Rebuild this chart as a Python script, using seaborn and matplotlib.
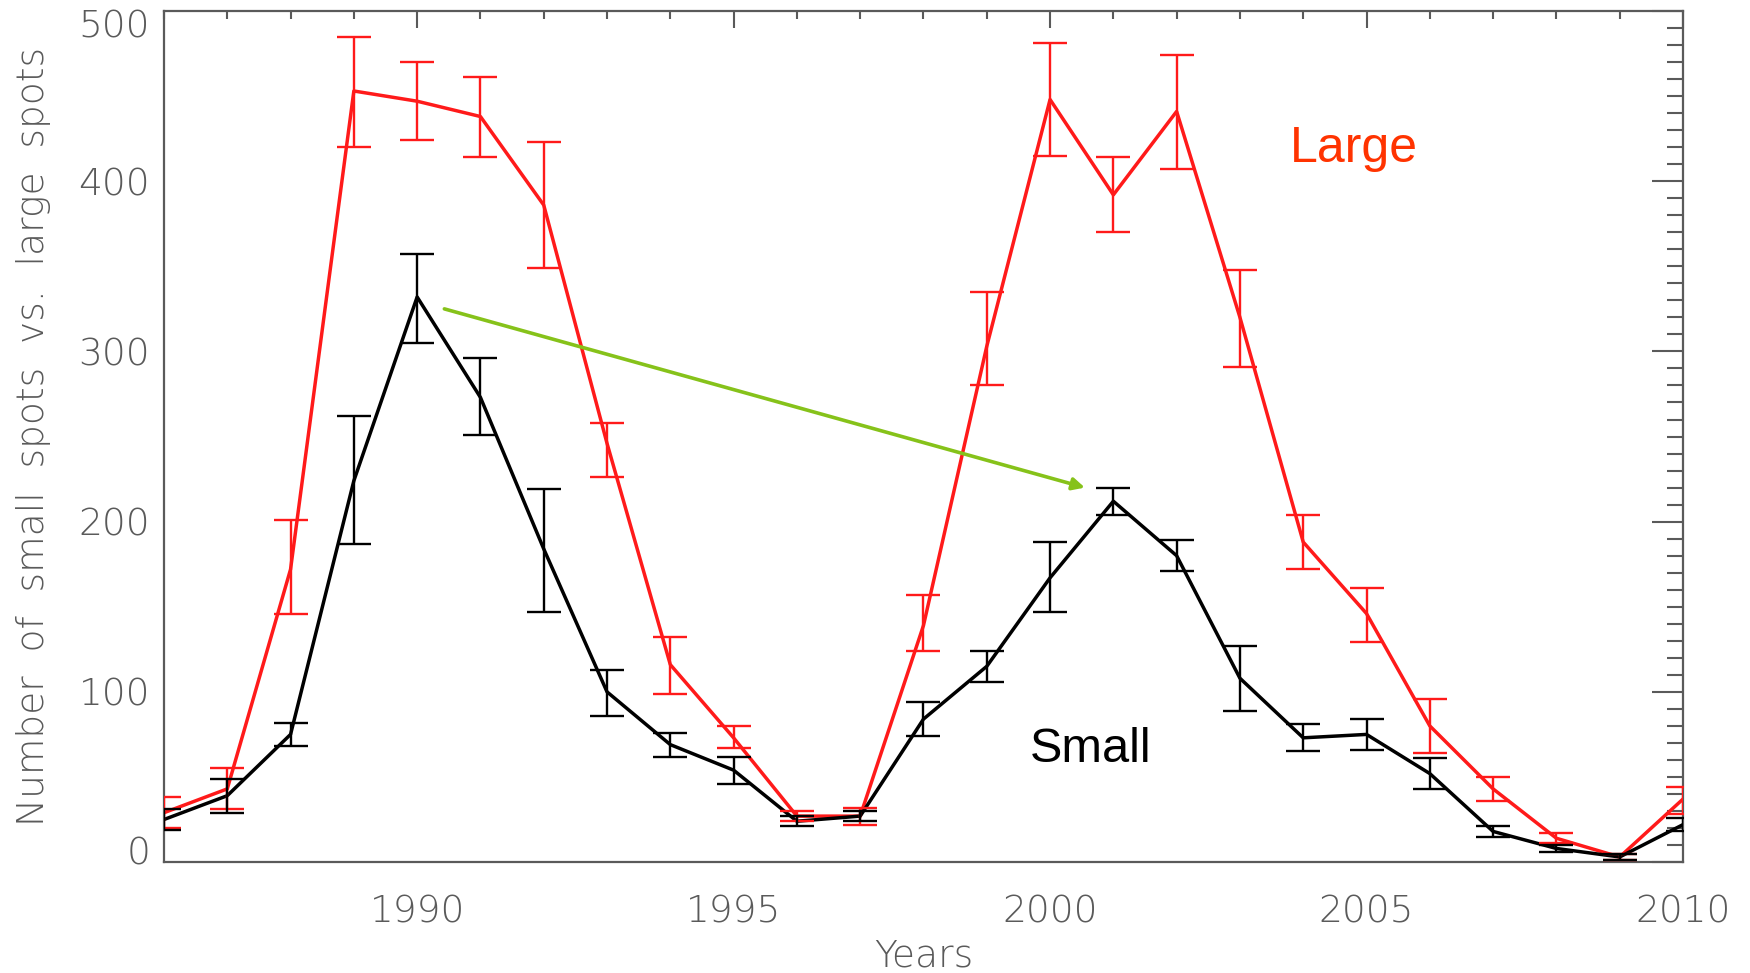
#!/usr/bin/env python3
"""Sunspot counts: small vs. large spots per year, with error bars."""

import matplotlib as mpl
import matplotlib.pyplot as plt
import numpy as np
import pandas as pd
import seaborn as sns
from matplotlib.transforms import ScaledTranslation

YEARS = list(range(1986, 2011))

LARGE = [29, 43, 172, 453, 447, 438, 386, 246, 116, 73, 27, 27, 139, 303,
         448, 392, 441, 320, 188, 146, 80, 43, 14, 3, 37]
LARGE_LO = [20, 31, 146, 420, 424, 414, 349, 226, 99, 67, 24, 22, 124, 280,
            415, 370, 407, 291, 172, 129, 64, 36, 11, 1, 28]
LARGE_HI = [38, 55, 201, 485, 470, 461, 423, 258, 132, 80, 30, 32, 157, 335,
            481, 414, 474, 348, 204, 161, 96, 50, 17, 5, 44]

SMALL = [25, 39, 75, 224, 332, 273, 184, 100, 69, 54, 24, 27, 84, 115,
         167, 212, 180, 108, 73, 75, 52, 18, 8, 3, 22]
SMALL_LO = [19, 29, 68, 187, 305, 251, 147, 86, 62, 46, 21, 24, 74, 106,
            147, 204, 171, 89, 65, 66, 43, 15, 6, 1, 18]
SMALL_HI = [31, 49, 82, 262, 357, 296, 219, 113, 76, 62, 27, 30, 94, 124,
            188, 220, 189, 127, 81, 84, 61, 21, 10, 5, 26]

ARROW_FROM = (1990.43, 325)
ARROW_TO = (2000.55, 220)

AXIS_GREY = "#5a5a5a"
LARGE_COLOR = "#ff1a1a"


def main() -> None:
    sns.set_theme(style="white")
    mpl.rcParams.update({
        "font.family": ["DejaVu Sans"],
        "axes.edgecolor": AXIS_GREY,
        "axes.linewidth": 1.6,
    })

    df = pd.DataFrame({
        "year": YEARS * 2,
        "count": LARGE + SMALL,
        "kind": ["Large"] * len(YEARS) + ["Small"] * len(YEARS),
    })

    fig = plt.figure(figsize=(17.5, 9.73), dpi=100)
    ax = fig.add_axes([0.0937, 0.114, 0.868, 0.8747])

    sns.lineplot(data=df, x="year", y="count", hue="kind",
                 palette={"Large": LARGE_COLOR, "Small": "black"},
                 linewidth=2.5, legend=False, ax=ax, zorder=3)

    years = np.array(YEARS)
    for vals, lo, hi, col in [(LARGE, LARGE_LO, LARGE_HI, LARGE_COLOR),
                              (SMALL, SMALL_LO, SMALL_HI, "black")]:
        v = np.array(vals)
        yerr = np.vstack([v - np.array(lo), np.array(hi) - v])
        ax.errorbar(years, v, yerr=yerr, fmt="none", ecolor=col,
                    elinewidth=1.7, capsize=12, capthick=1.7, zorder=3)

    ax.annotate("", xy=ARROW_TO, xytext=ARROW_FROM,
                arrowprops=dict(arrowstyle="-|>", color="#86c21a", lw=2.6,
                                mutation_scale=18, shrinkA=0, shrinkB=0),
                zorder=4)

    ax.text(2004.8, 419, "Large", color="#ff3300", fontsize=36,
            family=["Liberation Sans"], ha="center", va="center")
    ax.text(2000.64, 66, "Small", color="black", fontsize=35,
            family=["Liberation Sans"], ha="center", va="center")

    ax.set_xlim(1986, 2010)
    ax.set_ylim(0, 500)
    ax.xaxis.set_major_locator(mpl.ticker.MultipleLocator(5))
    ax.xaxis.set_minor_locator(mpl.ticker.MultipleLocator(1))
    ax.yaxis.set_major_locator(mpl.ticker.MultipleLocator(100))
    ax.yaxis.set_minor_locator(mpl.ticker.MultipleLocator(10))
    ax.tick_params(which="both", direction="in", top=True, right=True,
                   color=AXIS_GREY, labelcolor=AXIS_GREY, labelsize=27,
                   width=1.5)
    ax.tick_params(axis="x", which="major", length=12, pad=23)
    ax.tick_params(axis="x", which="minor", length=6)
    ax.tick_params(axis="y", which="major", length=22, pad=10)
    ax.tick_params(axis="y", which="minor", length=11.5)
    for lab in ax.get_xticklabels() + ax.get_yticklabels():
        lab.set_fontweight("light")

    ax.set_xlabel("Years", fontsize=27, color=AXIS_GREY,
                  fontweight="light", labelpad=7)
    ax.set_ylabel("Number  of  small  spots  vs.  large  spots",
                  fontsize=27, color=AXIS_GREY, fontweight="light",
                  labelpad=20)
    ax.grid(False)

    # the end labels sit inside the frame, as in the original plot
    fig.canvas.draw()
    for tick in ax.yaxis.get_major_ticks():
        if np.isclose(tick.get_loc(), 0):
            dy = 12 / 100
        elif np.isclose(tick.get_loc(), 500):
            dy = -13 / 100
        else:
            continue
        lab = tick.label1
        lab.set_transform(lab.get_transform()
                          + ScaledTranslation(0, dy, fig.dpi_scale_trans))

    fig.savefig("out.png", dpi=100, facecolor="white")
    plt.close(fig)


if __name__ == "__main__":
    main()
